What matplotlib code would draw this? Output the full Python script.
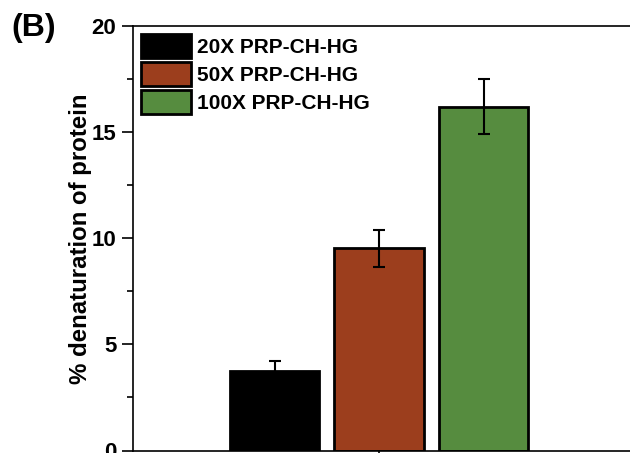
import matplotlib
matplotlib.use("Agg")
import matplotlib.pyplot as plt
from matplotlib.ticker import MultipleLocator

plt.rcParams['font.family'] = ['Liberation Sans', 'DejaVu Sans']
plt.rcParams['font.weight'] = 'bold'

labels = ["20X PRP-CH-HG", "50X PRP-CH-HG", "100X PRP-CH-HG"]
values = [3.75, 9.52, 16.2]
errors = [0.45, 0.87, 1.3]
colors = ["#000000", "#9C3E1D", "#568C3F"]
positions = [0, 1, 2]

W, H = 630, 453
fig = plt.figure(figsize=(W / 100, H / 100), dpi=100)
left, right, bottom, top = 133, 636, 2.5, 26
ax = fig.add_axes([left / W, bottom / H, (right - left) / W, (H - top - bottom) / H])

for p, v, e, c, l in zip(positions, values, errors, colors, labels):
    ax.bar(p, v, width=0.86, color=c, edgecolor="black", linewidth=2, label=l, zorder=2)
    ax.errorbar(p, v, yerr=e, fmt="none", ecolor="black", elinewidth=1.5,
                capsize=4.5, capthick=1.5, zorder=3)

px = 104.5
ax.set_xlim(1 - (379 - left) / px, 1 + (right - 379) / px)
ax.set_ylim(0, 20)
ax.set_xticks([1])
ax.set_xticklabels([""])
ax.yaxis.set_major_locator(MultipleLocator(5))
ax.yaxis.set_minor_locator(MultipleLocator(2.5))
ax.tick_params(axis="y", which="major", direction="out", length=8, width=1.2, labelsize=16, pad=4)
ax.tick_params(axis="y", which="minor", direction="out", length=4, width=1.2)
ax.tick_params(axis="x", which="major", direction="out", length=5, width=1.2)
for lab in ax.get_yticklabels():
    lab.set_fontweight("bold")
for s in ax.spines.values():
    s.set_linewidth(1.2)

ax.set_ylabel("% denaturation of protein", fontsize=17.3, fontweight="bold", labelpad=0)

leg = ax.legend(loc="upper left", frameon=False, fontsize=15, handlelength=2.4,
                handleheight=1.35, labelspacing=0.22, handletextpad=0.25,
                borderaxespad=0.2, borderpad=0.2)
for t in leg.get_texts():
    t.set_fontweight("bold")

fig.text(11 / W, 1 - 28 / H, "(B)", fontsize=23, fontweight="bold", va="center", ha="left")

fig.savefig("out.png", dpi=100)
